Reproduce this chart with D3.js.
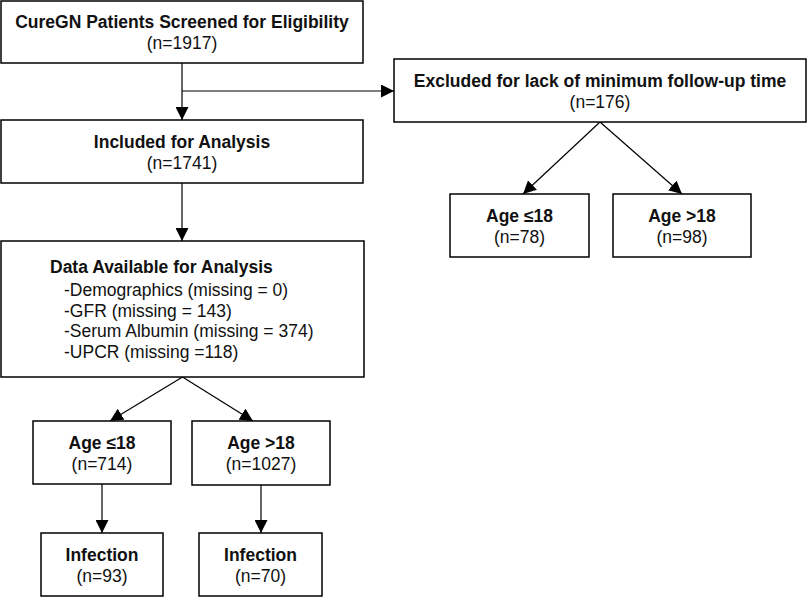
<!DOCTYPE html>
<html>
<head>
<meta charset="utf-8">
<script src="https://cdn.jsdelivr.net/npm/d3@7"></script>
<style>
  body { margin: 0; background: #fff; }
  svg { display: block; font-family: "Liberation Sans", Arial, Helvetica, sans-serif; }
</style>
</head>
<body>
<svg width="807" height="597"></svg>
<script>
// flowchart content
var titles = ["CureGN Patients Screened for Eligibility", "Included for Analysis",
  "Excluded for lack of minimum follow-up time", "Age \u226418", "Age >18",
  "Data Available for Analysis", "Age \u226418", "Age >18", "Infection", "Infection"];
var counts = [1917, 1741, 176, 78, 98, null, 714, 1027, 93, 70];
var missingItems = ["Demographics", "GFR", "Serum Albumin", "UPCR"];
var missingCounts = [0, 143, 374, 118];

// box geometry (layout only); inX = where an incoming arrow lands
var layout = [
  {x: 1, y: 1, w: 362, h: 62},
  {x: 1, y: 120, w: 362, h: 63},
  {x: 394, y: 59, w: 412, h: 63},
  {x: 450, y: 194, w: 139, h: 63, inX: 523},
  {x: 613, y: 194, w: 138, h: 63, inX: 682},
  {x: 1, y: 241, w: 363, h: 136},
  {x: 33, y: 421, w: 138, h: 63, inX: 110},
  {x: 192, y: 421, w: 138, h: 64, inX: 253},
  {x: 41, y: 533, w: 122, h: 63},
  {x: 199, y: 533, w: 123, h: 63}
];

var fs = 17.5;
var svg = d3.select("svg");

svg.append("defs").append("marker")
    .attr("id", "arr")
    .attr("viewBox", "0 0 12 12")
    .attr("refX", 12).attr("refY", 6)
    .attr("markerWidth", 13).attr("markerHeight", 13)
    .attr("markerUnits", "userSpaceOnUse")
    .attr("orient", "auto")
  .append("path")
    .attr("d", "M0,0 L12,6 L0,12 Z")
    .attr("fill", "#000");

function bottomMid(i) { var b = layout[i]; return [b.x + b.w / 2, b.y + b.h]; }
function topIn(i) { var b = layout[i]; return [b.inX != null ? b.inX : b.x + b.w / 2, b.y]; }

// connectors: [from, to]
var links = [[0, 1], [1, 5], [2, 3], [2, 4], [5, 6], [5, 7], [6, 8], [7, 9]];

var line = d3.line();
links.forEach(function(l) {
  var a = bottomMid(l[0]), b = topIn(l[1]);
  if (Math.abs(a[0] - b[0]) < 1) b[0] = a[0];
  svg.append("path")
      .attr("d", line([a, b]))
      .attr("stroke", "#000").attr("stroke-width", 1.2).attr("fill", "none")
      .attr("marker-end", "url(#arr)");
});

// branch to excluded box
var bx = bottomMid(0)[0];
svg.append("path")
    .attr("d", line([[bx, 91], [layout[2].x, 91]]))
    .attr("stroke", "#000").attr("stroke-width", 1.2).attr("fill", "none")
    .attr("marker-end", "url(#arr)");

// boxes
svg.selectAll("rect.box")
  .data(layout)
  .enter().append("rect")
    .attr("class", "box")
    .attr("x", function(d) { return d.x; })
    .attr("y", function(d) { return d.y; })
    .attr("width", function(d) { return d.w; })
    .attr("height", function(d) { return d.h; })
    .attr("fill", "#fff").attr("stroke", "#000").attr("stroke-width", 1.5);

// text for normal boxes
layout.forEach(function(b, i) {
  if (counts[i] == null) return;
  var cx = b.x + b.w / 2, cy = b.y + b.h / 2;
  svg.append("text")
      .attr("x", cx).attr("y", cy - 10)
      .attr("text-anchor", "middle").attr("dominant-baseline", "central")
      .attr("font-size", fs).attr("font-weight", "bold").attr("fill", "#111")
      .text(titles[i]);
  svg.append("text")
      .attr("x", cx).attr("y", cy + 11)
      .attr("text-anchor", "middle").attr("dominant-baseline", "central")
      .attr("font-size", fs).attr("fill", "#111")
      .text("(n=" + counts[i] + ")");
});

// data available box
var db = layout[5];
svg.append("text")
    .attr("x", db.x + 49).attr("y", 267)
    .attr("dominant-baseline", "central")
    .attr("font-size", fs).attr("font-weight", "bold").attr("fill", "#111")
    .text(titles[5]);
missingItems.forEach(function(m, i) {
  svg.append("text")
      .attr("x", db.x + 63).attr("y", 290 + i * 20.6)
      .attr("dominant-baseline", "central")
      .attr("font-size", fs).attr("fill", "#111")
      .text("-" + m + " (missing " + (i === 3 ? "=" : "= ") + missingCounts[i] + ")");
});
</script>
</body>
</html>
